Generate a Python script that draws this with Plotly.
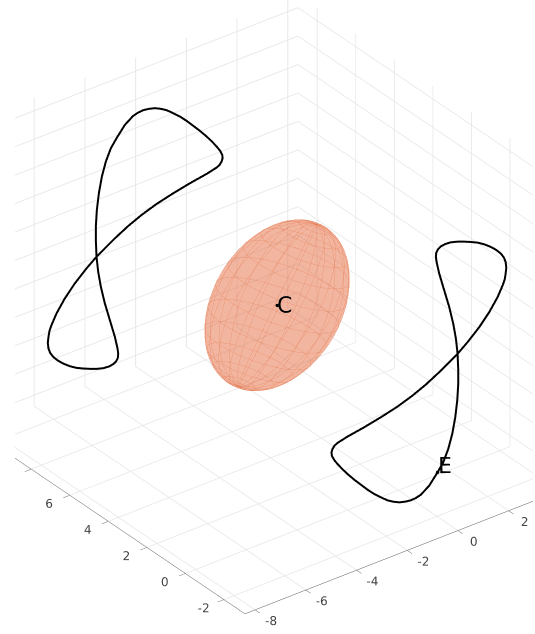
import numpy as np
import plotly.graph_objects as go

# left loop
left_x = [-4.576, -4.592, -4.592, -4.567, -4.517, -4.442, -4.342, -4.217, -4.075, -3.866, -3.658, -3.533, -3.408,
          -3.266, -3.116, -2.965, -2.823, -2.657, -2.490, -2.323, -2.156, -1.989, -1.822, -1.689, -1.572, -1.489,
          -1.430, -1.422, -1.447, -1.497, -1.572, -1.822, -2.239, -2.657, -3.074, -3.449,
          -3.783, -4.117, -4.367, -4.576, -4.826, -5.118, -5.368, -5.577, -5.702, -5.752, -5.777, -5.794, -5.777,
          -5.735, -5.660, -5.543, -5.410, -5.243, -5.076, -4.909, -4.742, -4.576, -4.409, -4.267, -4.158, -4.083,
          -4.042, -4.033, -4.050, -4.117, -4.242, -4.367, -4.467, -4.534, -4.576]
left_y = [9.642, 9.655, 9.655, 9.636, 9.598, 9.541, 9.465, 9.370, 9.262, 9.104, 8.946, 8.851, 8.756,
          8.648, 8.535, 8.421, 8.313, 8.186, 8.060, 7.933, 7.807, 7.680, 7.553, 7.452, 7.363, 7.300,
          7.256, 7.250, 7.269, 7.307, 7.363, 7.553, 7.870, 8.186, 8.503, 8.788,
          9.041, 9.294, 9.484, 9.642, 9.832, 10.054, 10.244, 10.402, 10.497, 10.535, 10.554, 10.566, 10.554,
          10.522, 10.465, 10.377, 10.275, 10.149, 10.022, 9.895, 9.769, 9.642, 9.516, 9.408, 9.326, 9.269,
          9.237, 9.231, 9.244, 9.294, 9.389, 9.484, 9.560, 9.611, 9.642]
left_z = [-0.006, 0.580, 1.050, 1.637, 2.224, 2.810, 3.339, 3.808, 4.160, 4.630, 4.947, 5.064, 5.146,
          5.193, 5.217, 5.193, 5.146, 5.041, 4.923, 4.771, 4.595, 4.418, 4.219, 4.043, 3.867, 3.726,
          3.573, 3.456, 3.339, 3.221, 3.127, 2.904, 2.576, 2.224, 1.848, 1.461,
          1.073, 0.639, 0.287, -0.006, -0.417, -0.945, -1.474, -2.002, -2.412, -2.612, -2.823, -3.035, -3.234,
          -3.387, -3.527, -3.657, -3.762, -3.856, -3.915, -3.938, -3.950, -3.950, -3.927, -3.868, -3.786, -3.680,
          -3.563, -3.410, -3.234, -2.823, -2.236, -1.650, -1.063, -0.535, -0.006]

# right loop
right_x = [0.852, 0.868, 0.868, 0.843, 0.793, 0.718, 0.618, 0.493, 0.351, 0.142, -0.066, -0.191, -0.316,
           -0.458, -0.608, -0.759, -0.901, -1.067, -1.234, -1.401, -1.568, -1.735, -1.902, -2.035, -2.152, -2.235,
           -2.294, -2.302, -2.277, -2.227, -2.152, -1.902, -1.485, -1.067, -0.650, -0.275,
           0.059, 0.393, 0.643, 0.852, 1.102, 1.394, 1.644, 1.853, 1.978, 2.028, 2.053, 2.070, 2.053,
           2.011, 1.936, 1.819, 1.686, 1.519, 1.352, 1.185, 1.018, 0.852, 0.685, 0.543, 0.434, 0.359,
           0.318, 0.309, 0.326, 0.393, 0.518, 0.643, 0.743, 0.810, 0.852]
right_y = [-1.950, -1.963, -1.963, -1.944, -1.906, -1.849, -1.773, -1.678, -1.570, -1.412, -1.254, -1.159, -1.064,
           -0.956, -0.843, -0.729, -0.621, -0.494, -0.368, -0.241, -0.115, 0.012, 0.139, 0.240, 0.329, 0.392,
           0.436, 0.442, 0.423, 0.385, 0.329, 0.139, -0.178, -0.494, -0.811, -1.096,
           -1.349, -1.602, -1.792, -1.950, -2.140, -2.362, -2.552, -2.710, -2.805, -2.843, -2.862, -2.874, -2.862,
           -2.830, -2.773, -2.685, -2.583, -2.457, -2.330, -2.203, -2.077, -1.950, -1.824, -1.716, -1.634, -1.577,
           -1.545, -1.539, -1.552, -1.602, -1.697, -1.792, -1.868, -1.919, -1.950]
right_z = [0.006, -0.580, -1.050, -1.637, -2.224, -2.810, -3.339, -3.808, -4.160, -4.630, -4.947, -5.064, -5.146,
           -5.193, -5.217, -5.193, -5.146, -5.041, -4.923, -4.771, -4.595, -4.418, -4.219, -4.043, -3.867, -3.726,
           -3.573, -3.456, -3.339, -3.221, -3.127, -2.904, -2.576, -2.224, -1.848, -1.461,
           -1.073, -0.639, -0.287, 0.006, 0.417, 0.945, 1.474, 2.002, 2.412, 2.612, 2.823, 3.035, 3.234,
           3.387, 3.527, 3.657, 3.762, 3.856, 3.915, 3.938, 3.950, 3.950, 3.927, 3.868, 3.786, 3.680,
           3.563, 3.410, 3.234, 2.823, 2.236, 1.650, 1.063, 0.535, 0.006]

# dots and their letters, pulled toward the viewer so they stay in front of the ellipsoid
dot_x = [-4.262, 0.351]
dot_y = [0.686, -1.570]
dot_z = [2.28, -4.160]
label_text = ["C", "E"]
label_x = [-4.074, 0.539]
label_y = [0.543, -1.713]
label_z = [2.32, -3.90]

x_ticks = [-8, -6, -4, -2, 0, 2, 4]
y_ticks = [-2, 0, 2, 4, 6, 8, 10]
z_ticks = [-5, -4, -3, -2, -1, 0, 1, 2, 3, 4, 5]

# ellipsoid around C
center = [-1.862, 3.846, 0.0]
radii = [2.88, 1.61, 2.37]
axis_pole = np.array([0.440, -0.117, 0.890])
axis_side = np.array([-0.078, -0.991, -0.091])
axis_depth = np.array([-0.894, 0.028, 0.443])

FILL = "#E56F45"
WIRE = "#E2683A"


def ellipsoid_point(theta, phi):
    return tuple(
        center[i]
        + radii[0] * np.cos(theta) * axis_pole[i]
        + radii[1] * np.sin(theta) * np.cos(phi) * axis_side[i]
        + radii[2] * np.sin(theta) * np.sin(phi) * axis_depth[i]
        for i in range(3)
    )


theta, phi = np.meshgrid(np.linspace(0, np.pi, 41), np.linspace(0, 2 * np.pi, 61))
sx, sy, sz = ellipsoid_point(theta, phi)

fig = go.Figure()
fig.add_trace(go.Surface(
    x=sx, y=sy, z=sz,
    surfacecolor=np.zeros_like(sx),
    colorscale=[[0, FILL], [1, FILL]],
    showscale=False,
    opacity=0.3,
    lighting=dict(ambient=1, diffuse=0, specular=0, fresnel=0),
    hoverinfo="skip",
))

# wire lines
wire_x, wire_y, wire_z = [], [], []
for p in np.linspace(0, 2 * np.pi, 21)[:-1]:
    t = np.linspace(0, np.pi, 31)
    wx, wy, wz = ellipsoid_point(t, p)
    wire_x += list(wx) + [None]
    wire_y += list(wy) + [None]
    wire_z += list(wz) + [None]
for t0 in np.linspace(0, np.pi, 13)[1:-1]:
    p = np.linspace(0, 2 * np.pi, 61)
    wx, wy, wz = ellipsoid_point(t0, p)
    wire_x += list(wx) + [None]
    wire_y += list(wy) + [None]
    wire_z += list(wz) + [None]
fig.add_trace(go.Scatter3d(
    x=wire_x, y=wire_y, z=wire_z, mode="lines",
    line=dict(color=WIRE, width=1), opacity=0.35, hoverinfo="skip",
))

for cx, cy, cz in ((left_x, left_y, left_z), (right_x, right_y, right_z)):
    fig.add_trace(go.Scatter3d(
        x=cx, y=cy, z=cz, mode="lines",
        line=dict(color="black", width=4),
    ))

fig.add_trace(go.Scatter3d(
    x=dot_x, y=dot_y, z=dot_z, mode="markers",
    marker=dict(size=2, color="black"),
))
fig.add_trace(go.Scatter3d(
    x=label_x, y=label_y, z=label_z, mode="text",
    text=label_text, textposition="middle center",
    textfont=dict(family="DejaVu Sans", size=22, color="black"),
))

axis_style = dict(
    showbackground=False,
    gridcolor="#e8e8e8",
    showline=True,
    linecolor="#555555",
    linewidth=1,
    ticks="outside",
    ticklen=8,
    tickcolor="#555555",
    tickangle=0,
    tickfont=dict(family="DejaVu Sans", size=12, color="#444444"),
    zeroline=False,
    showspikes=False,
    title=dict(text=""),
)

fig.update_layout(
    showlegend=False,
    paper_bgcolor="white",
    margin=dict(l=15, r=2, t=0, b=0),
    scene=dict(
        xaxis=dict(axis_style, range=[-8.4, 4.4], tickvals=x_ticks, ticktext=[str(v) for v in x_ticks]),
        yaxis=dict(axis_style, range=[-3.09, 11.0], tickvals=y_ticks, ticktext=[str(v) for v in y_ticks]),
        zaxis=dict(axis_style, range=[-5.39, 5.47], tickvals=z_ticks, ticktext=[str(v) for v in z_ticks]),
        aspectmode="manual",
        aspectratio=dict(x=1.286, y=1.416, z=1.136),
        camera=dict(
            projection=dict(type="orthographic"),
            eye=dict(x=-1.1464, y=-1.5217, z=1.0951),
            up=dict(x=0, y=0, z=1),
            center=dict(x=-0.0064, y=-0.0217, z=-0.0349),
        ),
    ),
)

# the page's default body margin would push the plot off the reference's frame
fig.write_html(
    "out.html",
    config={"displayModeBar": False},
    post_script="document.body.style.margin='0';Plotly.Plots.resize(document.getElementById('{plot_id}'));",
)
